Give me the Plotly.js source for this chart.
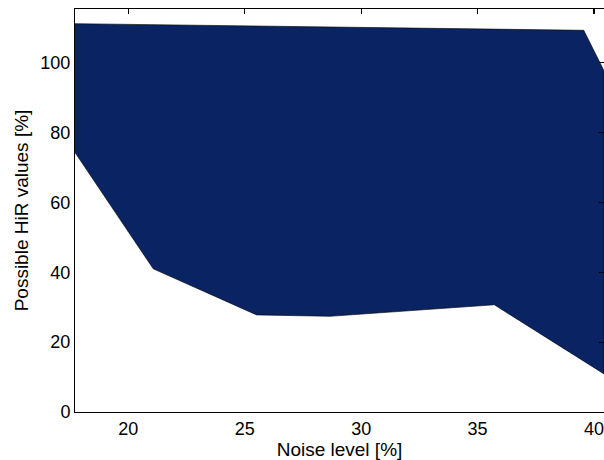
<!DOCTYPE html>
<html>
<head>
<meta charset="utf-8">
<script src="https://cdn.plot.ly/plotly-3.0.1.min.js"></script>
<style>
  html, body { margin: 0; padding: 0; background: #ffffff; }
  #chart { width: 604px; height: 460px; }
</style>
</head>
<body>
<div id="chart"></div>
<script>
// Lower and upper bounds of the admissible HiR values against noise level
const noiseLower = [17.71, 21.07, 25.51, 28.66, 35.72, 40.43];
const hirLower   = [74.3, 41.0, 27.8, 27.4, 30.7, 10.9];
const noiseUpper = [17.71, 39.56, 40.43];
const hirUpper   = [111.2, 109.3, 97.7];

const xTicks = [20, 25, 30, 35, 40];
const yTicks = [0, 20, 40, 60, 80, 100];
const xRange = [17.71, 40.43];
const yRange = [0, 115.4];

// Closed polygon: along the lower bound, then back along the upper bound
const polyX = noiseLower.concat(noiseUpper.slice().reverse());
const polyY = hirLower.concat(hirUpper.slice().reverse());

const font = 'Liberation Sans, Arial, Helvetica, sans-serif';

const band = {
  type: 'scatter',
  mode: 'lines',
  x: polyX,
  y: polyY,
  fill: 'toself',
  fillcolor: '#092363',
  line: { color: '#000000', width: 0.6 },
  hoverinfo: 'skip',
  showlegend: false
};

// Invisible carrier for the top / right tick axes
const frame = {
  type: 'scatter',
  mode: 'lines',
  x: xRange,
  y: yRange,
  xaxis: 'x2',
  yaxis: 'y2',
  line: { color: 'rgba(0,0,0,0)', width: 0 },
  hoverinfo: 'skip',
  showlegend: false
};

const layout = {
  width: 604,
  height: 460,
  margin: { l: 75, r: 0, t: 9, b: 48, pad: 0 },
  paper_bgcolor: '#ffffff',
  plot_bgcolor: '#ffffff',
  showlegend: false,
  font: { family: font, size: 18, color: '#000000' },
  xaxis: {
    range: xRange,
    tickvals: xTicks,
    ticktext: xTicks.map(String),
    ticks: '',
    ticklabeloverflow: 'allow',
    showgrid: false,
    zeroline: false,
    showline: true,
    mirror: true,
    linecolor: '#000000',
    linewidth: 1,
    tickfont: { family: font, size: 18, color: '#000000' },
    title: { text: 'Noise level [%]', font: { family: font, size: 19, color: '#000000' }, standoff: 2 },
    automargin: false
  },
  yaxis: {
    range: yRange,
    tickvals: yTicks,
    ticktext: yTicks.map(String),
    ticks: '',
    ticklabeloverflow: 'allow',
    showgrid: false,
    zeroline: false,
    showline: true,
    mirror: true,
    linecolor: '#000000',
    linewidth: 1,
    tickfont: { family: font, size: 18, color: '#000000' },
    title: { text: 'Possible HiR values [%]', font: { family: font, size: 19, color: '#000000' }, standoff: 6 },
    automargin: false
  },
  // Inward ticks along the top and right edges of the frame
  xaxis2: {
    overlaying: 'x',
    side: 'top',
    anchor: 'y2',
    range: xRange,
    tickvals: xTicks,
    ticks: 'inside',
    ticklen: 5,
    tickwidth: 1.2,
    tickcolor: '#000000',
    showticklabels: false,
    showgrid: false,
    zeroline: false,
    showline: false,
    automargin: false
  },
  yaxis2: {
    overlaying: 'y',
    side: 'right',
    anchor: 'x2',
    range: yRange,
    tickvals: yTicks,
    ticks: 'inside',
    ticklen: 5,
    tickwidth: 1.2,
    tickcolor: '#000000',
    showticklabels: false,
    showgrid: false,
    zeroline: false,
    showline: false,
    automargin: false
  }
};

Plotly.newPlot('chart', [band, frame], layout, { staticPlot: true, displayModeBar: false });
</script>
</body>
</html>
